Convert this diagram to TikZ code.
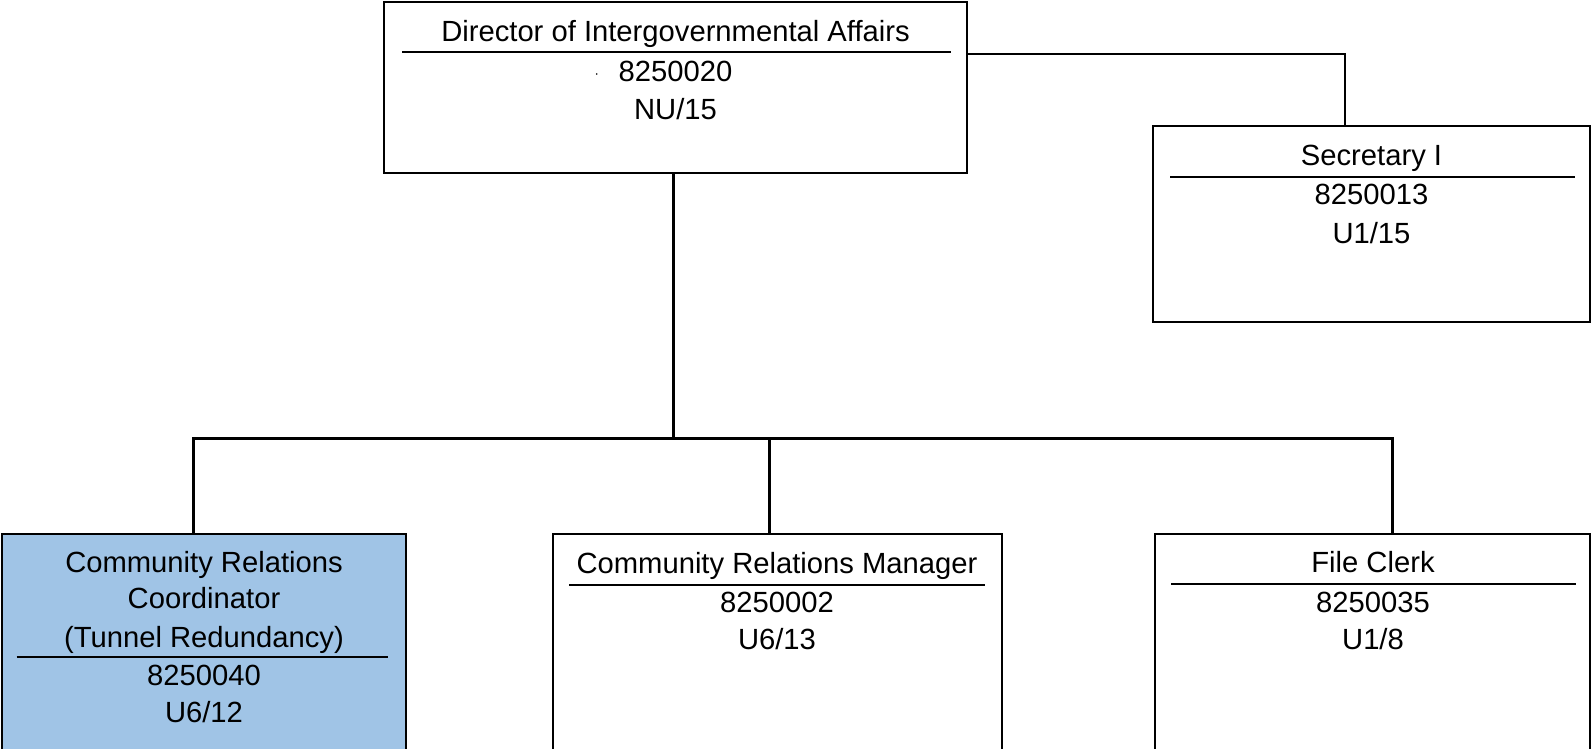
\documentclass[tikz,border=0pt]{standalone}
\usepackage{fontspec}
\setmainfont{Liberation Sans}
\definecolor{crcblue}{RGB}{160,196,230}
\tikzset{
  box/.style={draw=black,line width=2.2pt,inner sep=0pt,outer sep=0pt,anchor=north west},
  rulel/.style={line width=2pt},
  conn/.style={line width=2.6pt,line cap=rect},
  lbl/.style={anchor=base,inner sep=0pt,outer sep=0pt,font=\fontsize{29.2}{34}\selectfont}
}
\begin{document}
\begin{tikzpicture}[x=1pt,y=-1pt]
\useasboundingbox (0,0) rectangle (1591,749);
% boxes
\node[box,minimum width=582.4pt,minimum height=171.6pt] (dir) at (384.3,1.7) {};
\node[box,minimum width=437.3pt,minimum height=195.7pt] (sec) at (1152.7,126) {};
\node[box,fill=crcblue,minimum width=404.3pt,minimum height=220pt] (crc) at (1.7,534.3) {};
\node[box,minimum width=449pt,minimum height=220pt] (crm) at (552.7,534.3) {};
\node[box,minimum width=435pt,minimum height=220pt] (fc) at (1155,534.3) {};
% divider rules
\draw[rulel] (402.3,51.7) -- (950.7,51.7);
\draw[rulel] (1170,176.7) -- (1575,176.7);
\draw[rulel] (16.7,657) -- (388.3,657);
\draw[rulel] (569.3,585) -- (985,585);
\draw[rulel] (1171,583.7) -- (1576,583.7);
% texts
\node[lbl] (dirT) at (675.5,41.3) {Director of Intergovernmental Affairs};
\node[lbl] (dirN) at (675.5,81.5) {8250020};
\node[lbl] (dirG) at (675.5,119.5) {NU/15};
\fill (596.7,74) circle (0.9);
\node[lbl] (secT) at (1371.5,165.5) {Secretary I};
\node[lbl] (secN) at (1371.5,204.5) {8250013};
\node[lbl] (secG) at (1371.5,243.2) {U1/15};
\node[lbl] (crcT1) at (204,572.2) {Community Relations};
\node[lbl] (crcT2) at (204,608.8) {Coordinator};
\node[lbl] (crcT3) at (204,647.2) {(Tunnel Redundancy)};
\node[lbl] (crcN) at (204,685.5) {8250040};
\node[lbl] (crcG) at (204,722.8) {U6/12};
\node[lbl] (crmT) at (777,573.5) {Community Relations Manager};
\node[lbl] (crmN) at (777,612.2) {8250002};
\node[lbl] (crmG) at (777,649.5) {U6/13};
\node[lbl] (fcT) at (1373,572.2) {File Clerk};
\node[lbl] (fcN) at (1373,612.8) {8250035};
\node[lbl] (fcG) at (1373,649.5) {U1/8};
% connector coordinates
\coordinate (secJ) at (1345,54);
\coordinate (busM) at (673.3,438.3);
\coordinate (busL) at (193.3,438.3);
\coordinate (busC) at (769.3,438.3);
\coordinate (busR) at (1392.7,438.3);
% connectors
\draw[conn,line cap=butt] (dir.east |- secJ) -- (secJ) -- (secJ |- sec.north);
\draw[conn,line cap=butt] (busM |- dir.south) -- (busM);
\draw[conn,line cap=butt] (busL |- crc.north) -- (busL) -- (busR) -- (busR |- fc.north);
\draw[conn,line cap=butt] (busC) -- (busC |- crm.north);
\end{tikzpicture}
\end{document}
